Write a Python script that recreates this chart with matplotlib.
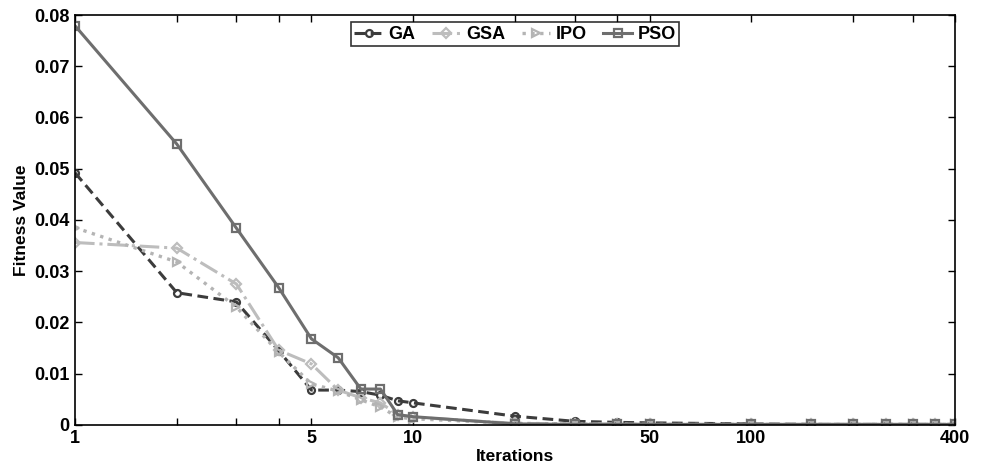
import matplotlib
matplotlib.use("Agg")
import matplotlib.pyplot as plt

plt.rcParams['font.family'] = ['Liberation Sans', 'DejaVu Sans']
plt.rcParams['font.weight'] = 'bold'

# Iteration counts (log x axis)
iterations = [1, 2, 3, 4, 5, 6, 7, 8, 9, 10, 20, 30, 40, 50, 100, 150, 200, 250, 300, 350, 400]

# Fitness values
ga = [0.0492, 0.0258, 0.0240, 0.0145, 0.0068, 0.0068, 0.0065, 0.0058, 0.0047, 0.0043,
      0.0017, 0.0007, 0.0005, 0.0004, 0.0002, 0.0001, 0.0001, 0.0001, 0.0001, 0.0001, 0.0001]
gsa = [0.0356, 0.0345, 0.0275, 0.0146, 0.0119, 0.0068, 0.0053, 0.0043, 0.0020, 0.0015,
       0.0003, 0.0002, 0.0002, 0.0001, 0.0001, 0.0001, 0.0001, 0.0001, 0.0001, 0.0001, 0.0001]
ipo = [0.0385, 0.0318, 0.0230, 0.0142, 0.0080, 0.0066, 0.0049, 0.0035, 0.0015, 0.0012,
       0.0003, 0.0002, 0.0001, 0.0001, 0.0001, 0.0001, 0.0001, 0.0001, 0.0001, 0.0001, 0.0001]
pso = [0.0779, 0.0548, 0.0384, 0.0268, 0.0168, 0.0131, 0.0070, 0.0070, 0.0020, 0.0016,
       0.0002, 0.0001, 0.0001, 0.0001, 0.0001, 0.0001, 0.0001, 0.0001, 0.0001, 0.0001, 0.0001]

xticks = [1, 2, 3, 4, 5, 10, 20, 30, 40, 50, 100, 200, 300, 400]
xticklabels = ['1', '', '', '', '5', '10', '', '', '', '50', '100', '', '', '400']
yticks = [0, 0.01, 0.02, 0.03, 0.04, 0.05, 0.06, 0.07, 0.08]
yticklabels = ['0', '0.01', '0.02', '0.03', '0.04', '0.05', '0.06', '0.07', '0.08']

fig = plt.figure(figsize=(9.81, 4.69), dpi=100)
ax = fig.add_axes([0.0765, 0.094, 0.897, 0.874])

ax.plot(iterations, ga, color='#3c3c3c', ls='--', lw=2.2, marker='o', ms=5,
        mfc='none', mew=1.6, label='GA', dashes=(3.5, 1.8))
ax.plot(iterations, gsa, color='#bdbdbd', ls='-.', lw=2.2, marker='D', ms=5,
        mfc='none', mew=1.6, label='GSA')
ax.plot(iterations, ipo, color='#b4b4b4', ls=':', lw=2.4, marker='>', ms=6,
        mfc='none', mew=1.6, label='IPO')
ax.plot(iterations, pso, color='#6e6e6e', ls='-', lw=2.2, marker='s', ms=6,
        mfc='none', mew=1.6, label='PSO')

ax.set_xscale('log')
ax.set_xlim(1, 400)
ax.set_ylim(0, 0.08)
ax.set_xticks(xticks)
ax.set_xticklabels(xticklabels)
ax.xaxis.set_minor_locator(matplotlib.ticker.NullLocator())
ax.set_yticks(yticks)
ax.set_yticklabels(yticklabels)
ax.tick_params(direction='in', top=True, right=True, length=5, width=1,
               labelsize=13, pad=4)
for s in ax.spines.values():
    s.set_linewidth(1.2)
    s.set_color('black')

ax.set_xlabel('Iterations', fontsize=12.5, fontweight='bold', labelpad=1)
ax.set_ylabel('Fitness Value', fontsize=12.5, fontweight='bold', labelpad=4)

leg = ax.legend(loc='upper center', ncol=4, frameon=True, fancybox=False,
                edgecolor='black', fontsize=13, handlelength=1.6,
                columnspacing=0.9, handletextpad=0.3, borderpad=0.2,
                borderaxespad=0.4)
leg.get_frame().set_linewidth(1.2)

fig.savefig('out.png', dpi=100)
